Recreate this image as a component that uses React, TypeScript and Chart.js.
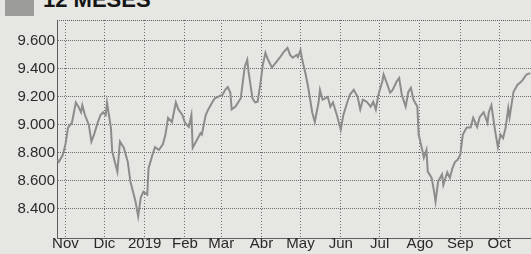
import React, { useEffect, useRef } from "react";
import { Chart, registerables } from "chart.js";

Chart.register(...registerables);

const titleText = "12 MESES";
const baseDate = "2018-11-01";
const rangeStart = "2018-10-25";
const rangeEnd = "2019-10-26";

const monthStarts = [
  "2018-11-01", "2018-12-01", "2019-01-01", "2019-02-01", "2019-03-01", "2019-04-01",
  "2019-05-01", "2019-06-01", "2019-07-01", "2019-08-01", "2019-09-01", "2019-10-01",
];
const monthLabels = ["Nov", "Dic", "2019", "Feb", "Mar", "Abr", "May", "Jun", "Jul", "Ago", "Sep", "Oct"];

const yTicks = [8400, 8600, 8800, 9000, 9200, 9400, 9600];
const yMin = 8190;
const yMax = 9750;

const dates = [
  "2018-10-26", "2018-10-27", "2018-10-30", "2018-11-01", "2018-11-03", "2018-11-06", "2018-11-09",
  "2018-11-11", "2018-11-13", "2018-11-14", "2018-11-16", "2018-11-19", "2018-11-21", "2018-11-23",
  "2018-11-26", "2018-11-28", "2018-11-30", "2018-12-02", "2018-12-03", "2018-12-06", "2018-12-07",
  "2018-12-09", "2018-12-11", "2018-12-13", "2018-12-16", "2018-12-19", "2018-12-21", "2018-12-25",
  "2018-12-27", "2018-12-29", "2018-12-31", "2019-01-03", "2019-01-04", "2019-01-07", "2019-01-09",
  "2019-01-12", "2019-01-15", "2019-01-17", "2019-01-19", "2019-01-22", "2019-01-25", "2019-01-27",
  "2019-01-30", "2019-02-01", "2019-02-04", "2019-02-06", "2019-02-07", "2019-02-11", "2019-02-13",
  "2019-02-14", "2019-02-17", "2019-02-19", "2019-02-22", "2019-02-24", "2019-03-02", "2019-03-04",
  "2019-03-06", "2019-03-08", "2019-03-09", "2019-03-12", "2019-03-16", "2019-03-19", "2019-03-21",
  "2019-03-22", "2019-03-25", "2019-03-27", "2019-03-29", "2019-03-31", "2019-04-02", "2019-04-04",
  "2019-04-06", "2019-04-09", "2019-04-12", "2019-04-15", "2019-04-18", "2019-04-21", "2019-04-23",
  "2019-04-25", "2019-04-28", "2019-04-29", "2019-05-01", "2019-05-02", "2019-05-05", "2019-05-07",
  "2019-05-10", "2019-05-12", "2019-05-15", "2019-05-16", "2019-05-18", "2019-05-22", "2019-05-24",
  "2019-05-26", "2019-05-29", "2019-06-01", "2019-06-03", "2019-06-06", "2019-06-08", "2019-06-11",
  "2019-06-14", "2019-06-16", "2019-06-18", "2019-06-21", "2019-06-24", "2019-06-26", "2019-06-28",
  "2019-06-30", "2019-07-03", "2019-07-04", "2019-07-07", "2019-07-09", "2019-07-11", "2019-07-14",
  "2019-07-16", "2019-07-18", "2019-07-21", "2019-07-23", "2019-07-25", "2019-07-27", "2019-07-30",
  "2019-07-31", "2019-08-03", "2019-08-04", "2019-08-06", "2019-08-07", "2019-08-10", "2019-08-12",
  "2019-08-13", "2019-08-15", "2019-08-18", "2019-08-19", "2019-08-22", "2019-08-24", "2019-08-26",
  "2019-08-28", "2019-08-30", "2019-09-01", "2019-09-03", "2019-09-06", "2019-09-09", "2019-09-11",
  "2019-09-14", "2019-09-16", "2019-09-19", "2019-09-22", "2019-09-23", "2019-09-25", "2019-09-28",
  "2019-09-30", "2019-10-02", "2019-10-04", "2019-10-06", "2019-10-08", "2019-10-09", "2019-10-12",
  "2019-10-15", "2019-10-17", "2019-10-19", "2019-10-22", "2019-10-25",
];

const values = [
  8750, 8735, 8785, 8860, 8980, 9015, 9160,
  9130, 9090, 9140, 9070, 9000, 8880, 8930,
  9020, 9070, 9090, 9070, 9160, 8980, 8810,
  8735, 8665, 8880, 8835, 8735, 8595, 8450,
  8345, 8480, 8520, 8500, 8690, 8785, 8840,
  8820, 8860, 8930, 9050, 9020, 9160, 9110,
  9070, 9015, 8985, 9070, 8835, 8905, 8940,
  8930, 9070, 9110, 9160, 9190, 9215, 9250,
  9270, 9230, 9110, 9130, 9190, 9410, 9465,
  9380, 9190, 9160, 9165, 9285, 9430, 9515,
  9465, 9410, 9445, 9480, 9520, 9550, 9500,
  9480, 9500, 9485, 9535, 9480, 9360, 9265,
  9090, 9020, 9165, 9250, 9180, 9200, 9130,
  9160, 9070, 8965, 9070, 9160, 9215, 9250,
  9200, 9110, 9180, 9165, 9130, 9165, 9110,
  9215, 9310, 9360, 9285, 9230, 9250, 9310,
  9335, 9215, 9130, 9235, 9265, 9180, 9130,
  8930, 8810, 8765, 8820, 8665, 8620, 8515,
  8450, 8595, 8645, 8570, 8660, 8620, 8690,
  8735, 8750, 8785, 8930, 8980, 8980, 9050,
  8985, 9055, 9090, 9015, 9090, 9140, 8950,
  8840, 8930, 8905, 8980, 9120, 9055, 9235,
  9285, 9300, 9320, 9360, 9370,
];

const DAY = 86400000;
const toDay = (s: string) => {
  const [y, m, d] = s.split("-").map(Number);
  const [by, bm, bd] = baseDate.split("-").map(Number);
  return Math.round((Date.UTC(y, m - 1, d) - Date.UTC(by, bm - 1, bd)) / DAY);
};

const monthDays = monthStarts.map(toDay);

const FONT = "'Liberation Sans', Arial, sans-serif";

const framePlugin = {
  id: "frameTop",
  afterDraw(chart: any) {
    const { ctx, chartArea } = chart;
    ctx.save();
    ctx.strokeStyle = "#5e5e5e";
    ctx.lineWidth = 1;
    ctx.setLineDash([1, 1]);
    ctx.beginPath();
    ctx.moveTo(chartArea.left, chartArea.top + 0.5);
    ctx.lineTo(chartArea.right, chartArea.top + 0.5);
    ctx.stroke();
    ctx.restore();
  },
};

export default function App() {
  const canvasRef = useRef<HTMLCanvasElement | null>(null);

  useEffect(() => {
    if (!canvasRef.current) return;
    const points = dates.map((d, i) => ({ x: toDay(d), y: values[i] }));
    const chart = new Chart(canvasRef.current, {
      type: "line",
      data: {
        datasets: [
          {
            data: points,
            borderColor: "#8c8c8c",
            borderWidth: 2,
            pointRadius: 0,
            tension: 0,
            fill: false,
          },
        ],
      },
      options: {
        animation: false,
        responsive: false,
        devicePixelRatio: 1,
        layout: { padding: { top: 20, right: 0, bottom: 0, left: 0 } },
        plugins: { legend: { display: false }, tooltip: { enabled: false }, title: { display: false } },
        scales: {
          x: {
            type: "linear",
            min: toDay(rangeStart) + 0.5,
            max: toDay(rangeEnd) - 0.5,
            afterBuildTicks: (scale: any) => {
              scale.ticks = monthDays.map((v) => ({ value: v }));
            },
            afterFit: (scale: any) => {
              scale.height = 16;
            },
            ticks: {
              autoSkip: false,
              maxRotation: 0,
              padding: -3,
              color: "#2a2a2a",
              font: { family: FONT, size: 15 },
              callback: (v: any) => {
                const idx = monthDays.indexOf(Number(v));
                return idx >= 0 ? monthLabels[idx] : "";
              },
            },
            grid: { color: "#6e6e6e", lineWidth: 1, drawTicks: false },
            border: { display: true, color: "#5e5e5e", dash: [1, 2] },
          },
          y: {
            type: "linear",
            min: yMin,
            max: yMax,
            afterBuildTicks: (scale: any) => {
              scale.ticks = yTicks.map((v) => ({ value: v }));
            },
            afterFit: (scale: any) => {
              scale.width = 57;
            },
            ticks: {
              padding: 2,
              color: "#2a2a2a",
              font: { family: FONT, size: 15 },
              callback: (v: any) => {
                const n = Number(v);
                return Math.floor(n / 1000) + "." + String(n % 1000).padStart(3, "0");
              },
            },
            grid: { color: "#6e6e6e", lineWidth: 1, drawTicks: false },
            border: { display: true, color: "#5e5e5e", dash: [1, 1] },
          },
        },
      },
      plugins: [framePlugin],
    } as any);
    return () => chart.destroy();
  }, []);

  return (
    <div
      style={{
        position: "absolute",
        left: 0,
        top: 0,
        width: 531,
        height: 254,
        overflow: "hidden",
        background: "#e6e6e3",
      }}
    >
      <div style={{ position: "absolute", left: 5, top: 0, width: 29, height: 16, background: "#9c9c9a" }} />
      <div
        style={{
          position: "absolute",
          left: 43,
          top: -11,
          fontFamily: FONT,
          fontWeight: "bold",
          fontSize: 22,
          lineHeight: "22px",
          color: "#151515",
          whiteSpace: "nowrap",
        }}
      >
        {titleText}
      </div>
      <canvas ref={canvasRef} width={531} height={254} style={{ position: "absolute", left: 0, top: 0 }} />
    </div>
  );
}
